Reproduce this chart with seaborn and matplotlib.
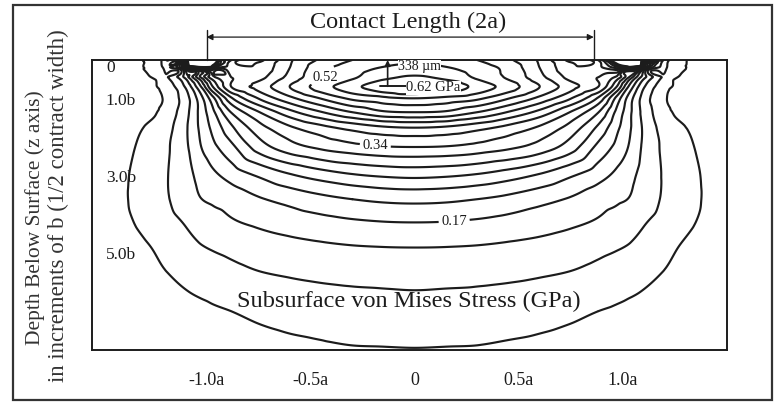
import numpy as np
import matplotlib
matplotlib.use("Agg")
import matplotlib.pyplot as plt
import matplotlib.tri as mtri
from matplotlib.patches import Rectangle
import seaborn as sns

# lateral positions (units of a, one half, mirrored about the centre line)
lateral_pos = [0, 0.15, 0.3, 0.45, 0.6, 0.75, 0.88, 0.97, 1.03, 1.1, 1.2, 1.32, 1.45, 1.6]
# depth below surface (units of b)
depths = [0, 0.2, 0.45, 0.7, 1.0, 1.35, 1.75, 2.25, 3.0, 3.6, 4.2, 4.85, 5.5, 6.0, 6.5, 7.5]
# von Mises stress (GPa), one row per depth
stress_half = [
    [0.54, 0.535, 0.52, 0.495, 0.455, 0.395, 0.43, 0.80, 2.00, 0.40, 0.135, 0.082, 0.066, 0.055],
    [0.56, 0.552, 0.535, 0.51, 0.46, 0.41, 0.42, 0.47, 0.48, 0.27, 0.122, 0.082, 0.066, 0.056],
    [0.585, 0.572, 0.545, 0.515, 0.47, 0.42, 0.40, 0.36, 0.28, 0.18, 0.105, 0.078, 0.065, 0.056],
    [0.62, 0.602, 0.57, 0.535, 0.49, 0.44, 0.40, 0.31, 0.22, 0.145, 0.094, 0.075, 0.063, 0.054],
    [0.548, 0.54, 0.525, 0.49, 0.45, 0.40, 0.335, 0.245, 0.185, 0.13, 0.088, 0.07, 0.06, 0.052],
    [0.49, 0.485, 0.46, 0.428, 0.39, 0.338, 0.285, 0.22, 0.178, 0.133, 0.093, 0.075, 0.063, 0.054],
    [0.40, 0.395, 0.38, 0.36, 0.335, 0.30, 0.25, 0.205, 0.175, 0.138, 0.101, 0.083, 0.069, 0.058],
    [0.34, 0.338, 0.33, 0.318, 0.30, 0.268, 0.22, 0.19, 0.168, 0.137, 0.107, 0.088, 0.073, 0.062],
    [0.26, 0.257, 0.25, 0.238, 0.222, 0.20, 0.18, 0.163, 0.15, 0.132, 0.11, 0.092, 0.076, 0.064],
    [0.206, 0.204, 0.198, 0.19, 0.179, 0.167, 0.154, 0.146, 0.141, 0.128, 0.109, 0.092, 0.077, 0.065],
    [0.17, 0.169, 0.166, 0.161, 0.155, 0.147, 0.139, 0.131, 0.125, 0.115, 0.103, 0.088, 0.076, 0.066],
    [0.142, 0.1415, 0.14, 0.137, 0.133, 0.127, 0.12, 0.115, 0.111, 0.105, 0.092, 0.08, 0.071, 0.062],
    [0.124, 0.123, 0.121, 0.119, 0.116, 0.112, 0.106, 0.101, 0.097, 0.092, 0.084, 0.076, 0.068, 0.06],
    [0.112, 0.111, 0.11, 0.108, 0.105, 0.10, 0.095, 0.091, 0.088, 0.084, 0.078, 0.071, 0.065, 0.058],
    [0.102, 0.101, 0.10, 0.097, 0.094, 0.09, 0.085, 0.082, 0.079, 0.076, 0.072, 0.067, 0.062, 0.057],
    [0.084, 0.0835, 0.083, 0.081, 0.079, 0.076, 0.073, 0.071, 0.069, 0.067, 0.064, 0.06, 0.056, 0.052],
]
contour_levels = [0.085, 0.113, 0.142, 0.17, 0.198, 0.227, 0.255, 0.283, 0.312, 0.34,
                  0.37, 0.40, 0.43, 0.46, 0.49, 0.52, 0.55, 0.58]
labelled_levels = [0.17, 0.34, 0.52]
label_spots = [(0.19, 4.2), (-0.19, 2.25), (-0.45, 0.32)]

x_ticks = [-1.0, -0.5, 0, 0.5, 1.0]
x_tick_labels = ["-1.0a", "-0.5a", "0", "0.5a", "1.0a"]
y_ticks = [0, 1, 2, 3, 4, 5, 6]
y_tick_labels = ["0", "1.0b", "", "3.0b", "", "5.0b", ""]
contact_ends = [-1.0, 0.86]
max_depth_text = "338 \u00b5m"
max_stress_text = "0.62 GPa"
max_pos = -0.13

sns.set_style("white")
plt.rcParams['font.family'] = ['Liberation Serif', 'DejaVu Serif']
ink = '#1c1c1c'

# mirror the half grid about x = 0
u_half = np.array(lateral_pos)
u_full = np.concatenate([-u_half[:0:-1], u_half])
z_half = np.array(stress_half)
z_full = np.hstack([z_half[:, :0:-1], z_half])
U, V = np.meshgrid(u_full, depths)

# triangulate in a stretched frame so the cells are not too flat
sx = 4.0
tri = mtri.Triangulation(U.ravel() * sx, V.ravel())
interp = mtri.CubicTriInterpolator(tri, z_full.ravel(), kind='geom')
tri_f, z_f = mtri.UniformTriRefiner(tri).refine_field(z_full.ravel(), triinterpolator=interp, subdiv=4)
tri_plot = mtri.Triangulation(tri_f.x / sx, tri_f.y, tri_f.triangles)

fig = plt.figure(figsize=(7.77, 4.04), dpi=100)
ax = fig.add_axes([92 / 777, 1 - 350 / 404, 635 / 777, 290 / 404])

plain_levels = [lv for lv in contour_levels if lv not in labelled_levels]
ax.tricontour(tri_plot, z_f, levels=plain_levels, colors=ink, linewidths=1.55)
cs_lab = ax.tricontour(tri_plot, z_f, levels=labelled_levels, colors=ink, linewidths=1.55)
ax.clabel(cs_lab, manual=label_spots, inline=True, fmt='%.2f', fontsize=10.5, inline_spacing=2)
for t in cs_lab.labelTexts:
    t.set_rotation(0)

ax.set_xlim(-1.55, 1.5)
ax.set_ylim(7.5, 0)
ax.set_xticks(x_ticks)
ax.set_xticklabels(x_tick_labels, fontsize=13, color=ink)
ax.set_yticks(y_ticks)
ax.set_yticklabels(y_tick_labels, fontsize=12.5, color=ink)
ax.tick_params(axis='x', direction='out', length=8.5, width=1.2, pad=7, colors=ink)
ax.tick_params(axis='y', direction='in', length=8.5, width=1.2, pad=-10, colors=ink)
for lab in ax.get_yticklabels():
    lab.set_ha('left')
ax.get_yticklabels()[0].set_va('top')
for sp in ax.spines.values():
    sp.set_linewidth(1.4)
    sp.set_color(ink)

# maximum stress marker
ax.annotate('', xy=(max_pos, 0.0), xytext=(max_pos, 0.68),
            arrowprops=dict(arrowstyle='-|>', color=ink, lw=1.2, mutation_scale=8, shrinkA=0, shrinkB=0))
ax.plot([max_pos - 0.035, max_pos + 0.09], [0.68, 0.68], color=ink, lw=1.4)
ax.text(max_pos + 0.05, 0.17, max_depth_text, fontsize=10, ha='left', va='center', color=ink,
        bbox=dict(fc='white', ec='none', pad=0.3))
ax.text(max_pos + 0.09, 0.72, max_stress_text, fontsize=10.5, ha='left', va='center', color=ink,
        bbox=dict(fc='white', ec='none', pad=0.3))

ax.text(-0.03, 6.25, "Subsurface von Mises Stress (GPa)", fontsize=17.5, ha='center', va='center', color=ink)

# contact length dimension line
xt = ax.get_xaxis_transform()
ax.annotate('', xy=(contact_ends[0], 1.079), xytext=(contact_ends[1], 1.079), xycoords=xt,
            arrowprops=dict(arrowstyle='<|-|>', color=ink, lw=0.9, mutation_scale=9, shrinkA=0, shrinkB=0),
            annotation_clip=False)
for xe in contact_ends:
    ax.plot([xe, xe], [1.0, 1.105], transform=xt, clip_on=False, color=ink, lw=1.0)

fig.text(408 / 777, 1 - 22 / 404, "Contact Length (2a)", fontsize=17.5, ha='center', va='center', color=ink)
fig.text(35 / 777, 1 - 218 / 404, "Depth Below Surface (z axis)", fontsize=15.5, rotation=90,
         ha='center', va='center', color='#333333')
fig.text(58 / 777, 1 - 206 / 404, "in increments of b (1/2 contract width)", fontsize=16.5, rotation=90,
         ha='center', va='center', color='#333333')

fig.add_artist(Rectangle((13 / 777, 4 / 404), 759 / 777, 395 / 404, transform=fig.transFigure,
                         fill=False, lw=1.6, ec='#333333'))

fig.savefig("out.png", dpi=100)
